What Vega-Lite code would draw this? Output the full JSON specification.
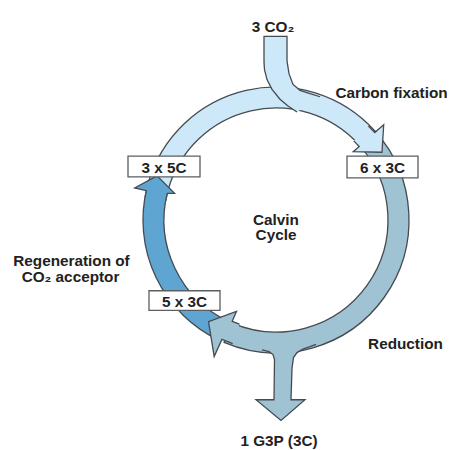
{
  "$schema": "https://vega.github.io/schema/vega-lite/v6.json",
  "width": 451,
  "height": 450,
  "padding": 0,
  "autosize": {"type": "fit", "contains": "padding"},
  "background": "#ffffff",
  "config": {"view": {"stroke": null}},
  "datasets": {
    "bands": [
      {"seg": "Carbon fixation", "t0": 286, "t1": 408},
      {"seg": "Reduction", "t0": 48, "t1": 203},
      {"seg": "Regeneration", "t0": 205, "t1": 284}
    ],
    "light": [
      {"shape": "input", "i": 0, "x": 297, "y": 114},
      {"shape": "input", "i": 1, "x": 288, "y": 108},
      {"shape": "input", "i": 2, "x": 280, "y": 101},
      {"shape": "input", "i": 3, "x": 272, "y": 91},
      {"shape": "input", "i": 4, "x": 267, "y": 81},
      {"shape": "input", "i": 5, "x": 264.5, "y": 71},
      {"shape": "input", "i": 6, "x": 264, "y": 63},
      {"shape": "input", "i": 7, "x": 264, "y": 37},
      {"shape": "input", "i": 8, "x": 287, "y": 37},
      {"shape": "input", "i": 9, "x": 287, "y": 62},
      {"shape": "input", "i": 10, "x": 289, "y": 75},
      {"shape": "input", "i": 11, "x": 293, "y": 86},
      {"shape": "input", "i": 12, "x": 300, "y": 92},
      {"shape": "input", "i": 13, "x": 310, "y": 95.4},
      {"shape": "input", "i": 14, "x": 320, "y": 98.5},
      {"shape": "head", "i": 0, "x": 353.8, "y": 143.4},
      {"shape": "head", "i": 1, "x": 359.2, "y": 149.1},
      {"shape": "head", "i": 2, "x": 353.3, "y": 154.4},
      {"shape": "head", "i": 3, "x": 382, "y": 155},
      {"shape": "head", "i": 4, "x": 383.7, "y": 127.0},
      {"shape": "head", "i": 5, "x": 374.8, "y": 135.0},
      {"shape": "head", "i": 6, "x": 368.4, "y": 128.3}
    ],
    "medium": [
      {"shape": "output", "i": 0, "x": 262, "y": 356.3},
      {"shape": "output", "i": 1, "x": 269, "y": 358},
      {"shape": "output", "i": 2, "x": 273, "y": 361},
      {"shape": "output", "i": 3, "x": 274.5, "y": 366},
      {"shape": "output", "i": 4, "x": 274, "y": 407},
      {"shape": "output", "i": 5, "x": 256, "y": 407},
      {"shape": "output", "i": 6, "x": 281, "y": 428},
      {"shape": "output", "i": 7, "x": 305, "y": 407},
      {"shape": "output", "i": 8, "x": 291, "y": 407},
      {"shape": "output", "i": 9, "x": 292, "y": 375},
      {"shape": "output", "i": 10, "x": 293.5, "y": 364},
      {"shape": "output", "i": 11, "x": 297, "y": 359},
      {"shape": "output", "i": 12, "x": 303, "y": 355.5},
      {"shape": "output", "i": 13, "x": 310, "y": 353},
      {"shape": "output", "i": 14, "x": 316, "y": 350.6},
      {"shape": "head", "i": 0, "x": 239.5, "y": 329.9},
      {"shape": "head", "i": 1, "x": 232.2, "y": 327.1},
      {"shape": "head", "i": 2, "x": 236.5, "y": 317.0},
      {"shape": "head", "i": 3, "x": 208.5, "y": 327.5},
      {"shape": "head", "i": 4, "x": 214.2, "y": 362.9},
      {"shape": "head", "i": 5, "x": 221.9, "y": 345.5},
      {"shape": "head", "i": 6, "x": 232.7, "y": 349.8}
    ],
    "dark": [
      {"shape": "head", "i": 0, "x": 165.7, "y": 204.6},
      {"shape": "head", "i": 1, "x": 167.3, "y": 196.9},
      {"shape": "head", "i": 2, "x": 174.6, "y": 196.8},
      {"shape": "head", "i": 3, "x": 157, "y": 179},
      {"shape": "head", "i": 4, "x": 134.7, "y": 191.4},
      {"shape": "head", "i": 5, "x": 146.4, "y": 194.1},
      {"shape": "head", "i": 6, "x": 145.0, "y": 200.9}
    ],
    "boxes": [
      {"label": "3 x 5C", "x1": 128, "x2": 200, "y1": 159, "y2": 180, "cx": 164, "cy": 171},
      {"label": "6 x 3C", "x1": 347, "x2": 418, "y1": 159, "y2": 181, "cx": 382.5, "cy": 171.5},
      {"label": "5 x 3C", "x1": 149, "x2": 220, "y1": 296, "y2": 316, "cx": 184.5, "cy": 307.5}
    ],
    "labels": [
      {"t": "3 CO₂", "x": 273, "y": 27},
      {"t": "Carbon fixation", "x": 391.5, "y": 95},
      {"t": "Calvin", "x": 276, "y": 223.5},
      {"t": "Cycle", "x": 276, "y": 239.5},
      {"t": "Regeneration of", "x": 71.5, "y": 265.5},
      {"t": "CO₂ acceptor", "x": 70.5, "y": 282.5},
      {"t": "Reduction", "x": 405.5, "y": 350.5},
      {"t": "1 G3P (3C)", "x": 279, "y": 449}
    ]
  },
  "layer": [
    {
      "data": {"name": "bands"},
      "mark": {"type": "arc", "radius": 133, "radius2": 112, "stroke": "#454b50", "strokeWidth": 1.3},
      "encoding": {
        "x": {"datum": 276, "type": "quantitative", "scale": {"domain": [0, 451], "nice": false, "zero": false}, "axis": null},
        "y": {"datum": 224, "type": "quantitative", "scale": {"domain": [0, 450], "reverse": true, "nice": false, "zero": false}, "axis": null},
        "theta": {"field": "t0", "type": "quantitative", "stack": null, "scale": {"domain": [0, 360], "range": [0, 6.283185307], "nice": false, "zero": false}},
        "theta2": {"field": "t1"},
        "color": {"field": "seg", "type": "nominal", "legend": null, "scale": {"domain": ["Carbon fixation", "Reduction", "Regeneration"], "range": ["#cde8f8", "#a0c3d4", "#5fa5d2"]}}
      }
    },
    {
      "data": {"name": "light"},
      "mark": {"type": "line", "fill": "#cde8f8", "stroke": "#454b50", "strokeWidth": 1.3},
      "encoding": {
        "x": {"field": "x", "type": "quantitative", "scale": {"domain": [0, 451], "nice": false, "zero": false}, "axis": null},
        "y": {"field": "y", "type": "quantitative", "scale": {"domain": [0, 450], "reverse": true, "nice": false, "zero": false}, "axis": null},
        "detail": {"field": "shape", "type": "nominal"},
        "order": {"field": "i", "type": "quantitative"}
      }
    },
    {
      "data": {"name": "medium"},
      "mark": {"type": "line", "fill": "#a0c3d4", "stroke": "#454b50", "strokeWidth": 1.3},
      "encoding": {
        "x": {"field": "x", "type": "quantitative", "axis": null},
        "y": {"field": "y", "type": "quantitative", "axis": null},
        "detail": {"field": "shape", "type": "nominal"},
        "order": {"field": "i", "type": "quantitative"}
      }
    },
    {
      "data": {"name": "dark"},
      "mark": {"type": "line", "fill": "#5fa5d2", "stroke": "#454b50", "strokeWidth": 1.3},
      "encoding": {
        "x": {"field": "x", "type": "quantitative", "axis": null},
        "y": {"field": "y", "type": "quantitative", "axis": null},
        "detail": {"field": "shape", "type": "nominal"},
        "order": {"field": "i", "type": "quantitative"}
      }
    },
    {
      "data": {"name": "boxes"},
      "mark": {"type": "rect", "fill": "#ffffff", "stroke": "#5a5f63", "strokeWidth": 1.3},
      "encoding": {
        "x": {"field": "x1", "type": "quantitative", "axis": null},
        "x2": {"field": "x2"},
        "y": {"field": "y1", "type": "quantitative", "axis": null},
        "y2": {"field": "y2"}
      }
    },
    {
      "data": {"name": "boxes"},
      "mark": {"type": "text", "font": "Liberation Sans", "fontWeight": "bold", "fontSize": 15.3, "fill": "#222222", "align": "center", "baseline": "middle"},
      "encoding": {
        "x": {"field": "cx", "type": "quantitative", "axis": null},
        "y": {"field": "cy", "type": "quantitative", "axis": null},
        "text": {"field": "label"}
      }
    },
    {
      "data": {"name": "labels"},
      "mark": {"type": "text", "font": "Liberation Sans", "fontWeight": "bold", "fontSize": 15.3, "fill": "#222222", "align": "center", "baseline": "middle"},
      "encoding": {
        "x": {"field": "x", "type": "quantitative", "axis": null},
        "y": {"field": "y", "type": "quantitative", "axis": null},
        "text": {"field": "t"}
      }
    }
  ]
}
